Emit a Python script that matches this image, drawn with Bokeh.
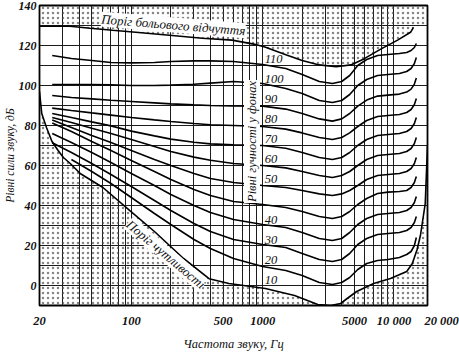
import math
from bokeh.plotting import figure
from bokeh.models import FixedTicker, Label
from bokeh.embed import file_html
from bokeh.resources import INLINE

nan = float("nan")

# Frequencies (Hz) shared by the equal-loudness contours
FREQ = [25, 35, 50, 70, 100, 150, 200, 300, 400, 600, 1000, 1500, 2000, 2700,
        3400, 4000, 4600, 5300, 6200, 7500, 9000, 11000, 12500, 13500, 14300, 14800]

# Sound level (dB) of each loudness level (phon) contour
L110 = [115, 113.5, 112.5, 111.5, 111.3, 111.5, 112, 112.3, 112.3, 112, 110.5, 108.5, 105.5, 102,
        101, 102, 105, 110, 113, 115, 115.5, 116, 116.5, 117.5, 119, 121]
L100 = [100.5, 100.5, 100.5, 100.3, 100, 100, 100.2, 100.6, 101.2, 102, 101, 98.5, 96, 92.5,
        91.5, 92.5, 95.5, 100, 103, 105, 105.5, 106, 107, 108.5, 111, 114]
L90 = [95, 94, 93.3, 92.6, 92, 91.3, 90.8, 90.3, 90, 89.8, 89.7, 88.2, 86, 83.3,
       82.2, 83.3, 86, 89.7, 92.7, 94.7, 95.2, 95.7, 96.7, 98.2, 100.7, 103.7]
L80 = [88.7, 87.5, 86.3, 85.2, 84, 82.8, 82, 81, 80.4, 80, 79.5, 78.2, 76.3, 74,
       73, 74, 76.3, 79.5, 82.5, 84.5, 85, 85.5, 86.5, 88, 90.5, 93.5]
L70 = [86, 84, 81.8, 79.8, 77.2, 74.8, 73.2, 71.6, 70.8, 70.3, 70, 68.6, 66.5, 64,
       63, 64, 66.5, 70, 73, 75, 75.5, 76, 77, 78.5, 81, 84]
L60 = [84, 81.5, 78.6, 76, 73, 69.5, 67, 64.2, 62.6, 61, 60, 58.8, 57, 55,
       54, 55, 57, 60, 63, 65, 65.5, 66, 67, 68.5, 71, 74]
L50 = [82.7, 79, 75, 71.5, 67.5, 63, 60, 56, 53.5, 51.5, 50, 49, 47.5, 45.8,
       45, 45.8, 47.5, 50, 53, 55, 55.5, 56, 57, 58.5, 61, 64]
L40 = [81.3, 77, 72, 67.5, 62.5, 57, 53, 48, 45, 42, 40.5, 39, 37, 34.5,
       33.5, 34.5, 37, 40.5, 43.5, 46, 46.7, 47, 47.5, 49, 51.5, 54.5]
L30 = [76, 71.5, 66.5, 61.5, 56, 50, 45.5, 40, 36.5, 33, 30.5, 29, 26.5, 23.5,
       22.5, 23.5, 26.5, 30.5, 33.5, 35.5, 36, 36.5, 37.5, 39, 41.5, 44.5]
L20 = [71.4, 66.5, 61, 55.5, 49.5, 42.5, 37.5, 31, 27, 23, 20.5, 19, 16, 13,
       12, 13, 16, 20.5, 23.5, 25.5, 26, 26.5, 27.5, 29, 31.5, 34.5]
L10 = [nan, 63, 57, 51, 44, 36, 30.5, 23, 18.5, 13.5, 9.5, 7.5, 5, 1.5,
       0.5, 1.5, 4, 8, 11, 12.5, 13, 14, 15.5, 17, 20, 24]

LEVELS = [110, 100, 90, 80, 70, 60, 50, 40, 30, 20, 10]
CURVES = [L110, L100, L90, L80, L70, L60, L50, L40, L30, L20, L10]

# Threshold of hearing
T_FREQ = [20, 20.8, 22.6, 24.9, 27.7, 30.4, 34.3, 40.8, 60.8, 97.5, 150, 250, 391, 554,
          1050, 1750, 2630, 3300, 3925, 4400, 5200, 7000, 9400, 12500, 13800, 15000,
          15900, 17300, 18000]
T_DB = [97, 86, 79, 72, 67.5, 64, 61, 56, 49, 37.4, 27, 13.5, 3.4, 1,
        -1.5, -5, -9.5, -10, -9, -6.5, -3, 1, 3.5, 7, 11, 18,
        25, 41, 70]

# Threshold of pain
P_FREQ = [20, 34, 48.5, 72, 108, 195, 347, 584, 855, 1040, 1520, 2000, 2695, 3625,
          4700, 5900, 7930, 10660, 13370, 14090]
P_DB = [129.6, 129.6, 128.6, 127.6, 126.6, 125.1, 123.6, 122.7, 120.7, 119.2, 115.3, 112.5,
        110.3, 109.4, 110.3, 113.3, 118.2, 122.7, 126.6, 129.1]

X_TICKS = [20, 100, 500, 1000, 5000, 10000, 18000]
NB = "\u00a0"
X_TICK_TEXT = ["20", "100", "500", "1000", "5000", "10 000", NB * 9 + "20" + NB + "000"]
GRID_X = [20, 30, 40, 50, 60, 70, 80, 90, 100, 200, 300, 400, 500, 600, 700, 800, 900,
          1000, 2000, 3000, 4000, 5000, 6000, 7000, 8000, 9000, 10000]
Y_TICKS = [0, 20, 40, 60, 80, 100, 120, 140]
GRID_Y = [0, 10, 20, 30, 40, 50, 60, 70, 80, 90, 100, 110, 120, 130]

XMIN, XMAX, YMIN, YMAX = 20, 18000, -10, 140

FONT = "Liberation Serif"

p = figure(width=459, height=353, x_axis_type="log", x_range=(XMIN, XMAX),
           y_range=(YMIN, YMAX), output_backend="svg", toolbar_location=None,
           min_border_left=30, min_border_right=32, min_border_top=5,
           min_border_bottom=46, background_fill_color="white",
           border_fill_color="white")

p.outline_line_color = "black"
p.outline_line_width = 1.8

p.xgrid.ticker = FixedTicker(ticks=GRID_X)
p.ygrid.ticker = FixedTicker(ticks=GRID_Y)
for g in (p.xgrid, p.ygrid):
    g.grid_line_color = "#1c1c1c"
    g.grid_line_width = 1

# stippled regions
top_x = P_FREQ + [XMAX, XMAX, XMIN]
top_y = P_DB + [130, YMAX, YMAX]
bot_x = T_FREQ + [XMAX, XMIN]
bot_y = T_DB + [YMIN, YMIN]
for xs, ys in ((top_x, top_y), (bot_x, bot_y)):
    p.patch(xs, ys, fill_alpha=0, line_color=None, hatch_pattern="dot",
            hatch_color="#444444", hatch_scale=5, hatch_weight=0.8, hatch_alpha=0.65)

for ys in CURVES:
    p.line(FREQ, ys, line_color="black", line_width=1.6)
p.line(T_FREQ, T_DB, line_color="black", line_width=1.6)
p.line(P_FREQ, P_DB, line_color="black", line_width=1.6)

# axes
p.xaxis.ticker = FixedTicker(ticks=X_TICKS)
p.xaxis.major_label_overrides = {t: s for t, s in zip(X_TICKS, X_TICK_TEXT)}
p.yaxis.ticker = FixedTicker(ticks=Y_TICKS)
for ax in (p.xaxis[0], p.yaxis[0]):
    ax.axis_line_color = None
    ax.major_tick_line_color = None
    ax.minor_tick_line_color = None
    ax.major_tick_out = 0
    ax.major_tick_in = 0
    ax.minor_tick_out = 0
    ax.minor_tick_in = 0
    ax.major_label_text_font = FONT
    ax.major_label_text_font_style = "bold italic"
    ax.major_label_text_color = "#111111"
    ax.axis_label_text_font = FONT
    ax.axis_label_text_font_style = "italic"
    ax.axis_label_text_color = "#111111"
p.xaxis.major_label_text_font_size = "12.5px"
p.xaxis.axis_label_text_font_size = "12.5px"
p.yaxis.major_label_text_font_size = "12px"
p.yaxis.axis_label_text_font_size = "11.5px"
p.xaxis.major_label_standoff = 8
p.xaxis.axis_label_standoff = 6
p.yaxis.major_label_standoff = 3
p.yaxis.axis_label_standoff = 0
p.xaxis.axis_label = "Частота звуку, Гц"
p.yaxis.axis_label = "Рівні сили звуку, дБ"

# phon labels
for lev in LEVELS:
    dy = 3.3 if lev >= 50 else -7
    p.add_layout(Label(x=1036, y=lev + dy, text=str(lev), text_align="left",
                       text_baseline="middle", text_font=FONT,
                       text_font_style="italic", text_font_size="12.5px",
                       text_color="#111111"))

# captions
p.add_layout(Label(x=209, y=130.3, text="Поріг больового відчуття", angle=-0.08,
                   text_align="center", text_baseline="middle", text_font=FONT,
                   text_font_style="italic", text_font_size="13px", text_color="#111111",
                   background_fill_color="white", padding=0))
p.add_layout(Label(x=830, y=72, text="Рівні гучності у фонах", angle=math.pi / 2,
                   text_align="center", text_baseline="middle", text_font=FONT,
                   text_font_style="italic", text_font_size="12.5px", text_color="#111111",
                   background_fill_color="white", padding=1))
p.add_layout(Label(x=183.5, y=15.6, text="Поріг чутливості", angle=-0.70,
                   text_align="center", text_baseline="middle", text_font=FONT,
                   text_font_style="italic", text_font_size="13px", text_color="#111111",
                   background_fill_color="white", padding=0))

open("out.html", "w").write(file_html(p, INLINE))
